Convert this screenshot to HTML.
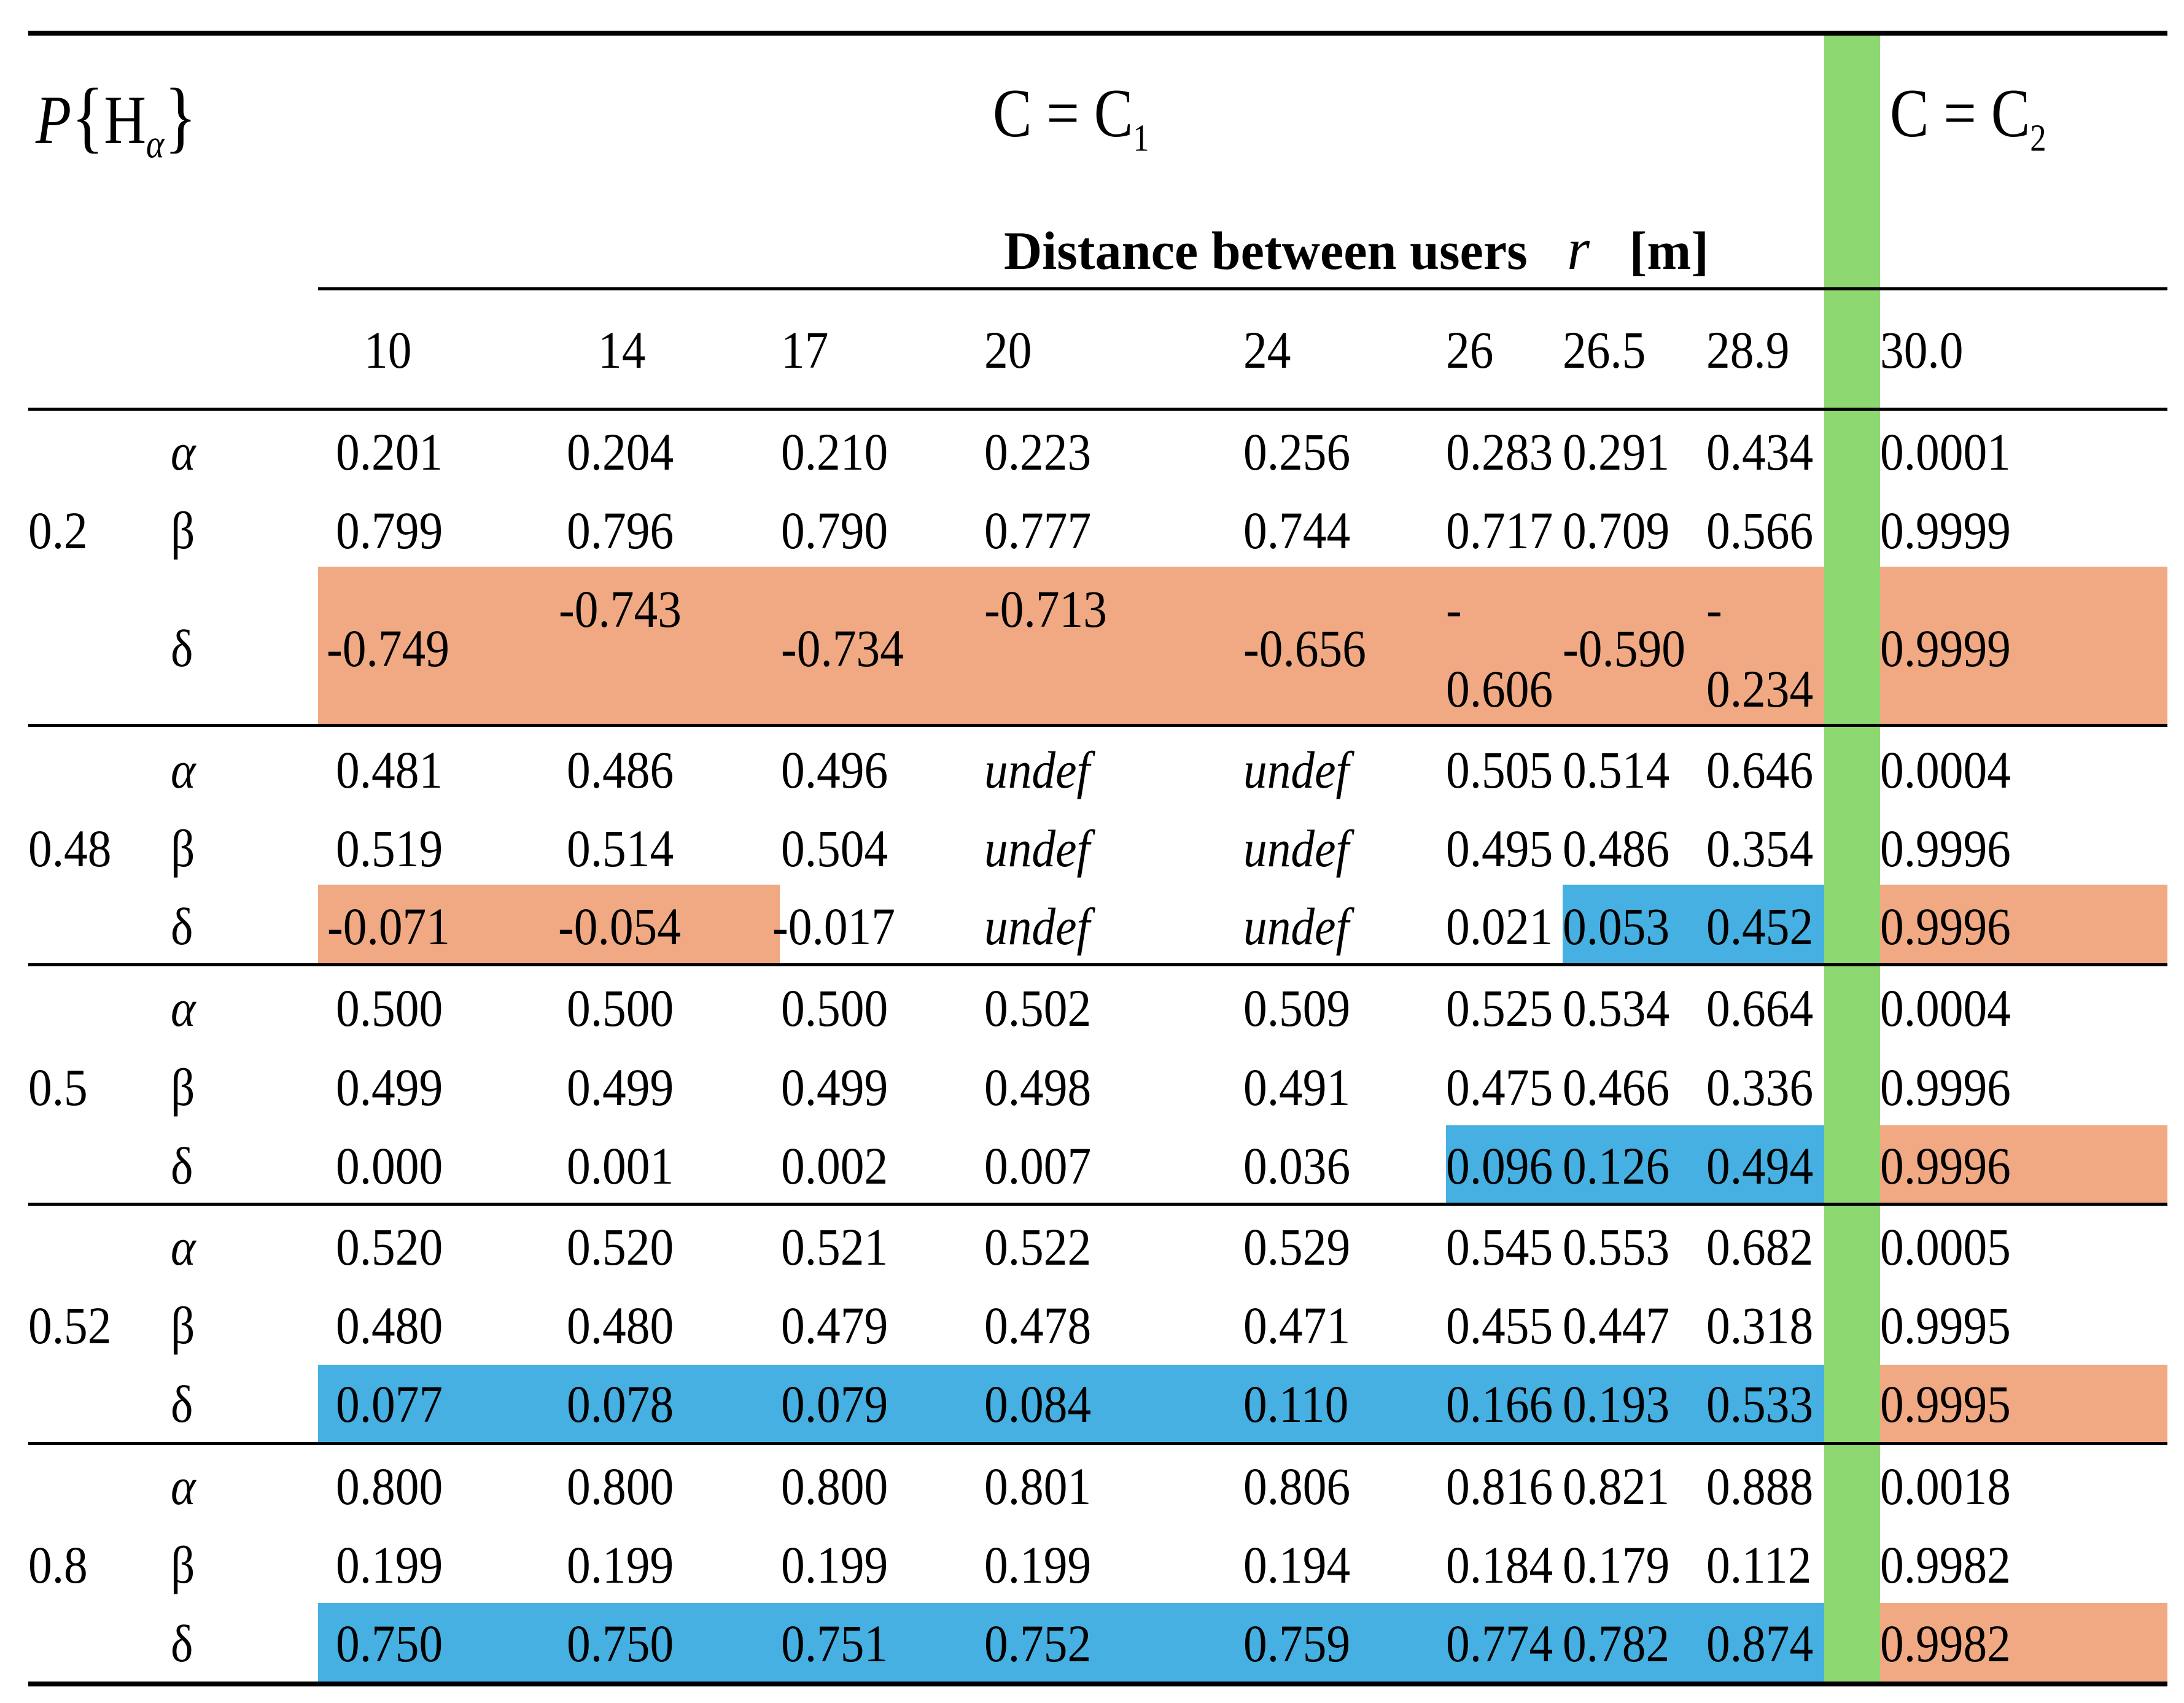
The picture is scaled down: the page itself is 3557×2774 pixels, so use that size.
<!DOCTYPE html>
<html><head><meta charset="utf-8">
<style>
html,body{margin:0;padding:0;background:#fff;}
#root{position:relative;width:3557px;height:2774px;overflow:hidden;font-family:"Liberation Serif",serif;color:#000;}
.abs{position:absolute;}
.t{position:absolute;white-space:nowrap;font-size:86px;line-height:100px;height:100px;transform:scaleX(0.9);transform-origin:left center;}
.rule{position:absolute;background:#000;}
</style></head>
<body>
<div id="root">
  <div class="abs" style="left:2971px;top:55px;width:91px;height:2686px;background:#8ED872;"></div>
  <div class="rule" style="left:46px;top:50px;width:3484px;height:8px;"></div>
  <div class="rule" style="left:518px;top:468px;width:3012px;height:5px;"></div>
  <div class="rule" style="left:46px;top:664px;width:3484px;height:5px;"></div>
  <div class="t" style="left:58px;top:125px;font-size:112px;line-height:130px;height:130px;transform:scaleX(0.85);"><i>P</i><span style="font-size:130px;">{</span>H<sub style="font-size:66px;"><i>α</i></sub><span style="font-size:130px;">}</span></div>
  <div class="t" style="left:1617px;top:120px;font-size:112px;line-height:130px;height:130px;transform:scaleX(0.85);">C = C<sub style="font-size:62px;">1</sub></div>
  <div class="t" style="left:3078px;top:120px;font-size:112px;line-height:130px;height:130px;transform:scaleX(0.85);">C = C<sub style="font-size:62px;">2</sub></div>
  <div class="t" style="left:1635px;top:356px;font-size:88px;font-weight:bold;transform:scaleX(0.98);">Distance between users&nbsp;&nbsp;&nbsp;<i style="font-weight:normal;font-size:96px;">r</i>&nbsp;&nbsp;&nbsp;[m]</div>
</div>
<script>
var distances=["10","14","17","20","24","26","26.5","28.9","30.0"];
var groups=["0.2","0.48","0.5","0.52","0.8"];
var alphaVals=[
["0.201","0.204","0.210","0.223","0.256","0.283","0.291","0.434","0.0001"],
["0.481","0.486","0.496","undef","undef","0.505","0.514","0.646","0.0004"],
["0.500","0.500","0.500","0.502","0.509","0.525","0.534","0.664","0.0004"],
["0.520","0.520","0.521","0.522","0.529","0.545","0.553","0.682","0.0005"],
["0.800","0.800","0.800","0.801","0.806","0.816","0.821","0.888","0.0018"]];
var betaVals=[
["0.799","0.796","0.790","0.777","0.744","0.717","0.709","0.566","0.9999"],
["0.519","0.514","0.504","undef","undef","0.495","0.486","0.354","0.9996"],
["0.499","0.499","0.499","0.498","0.491","0.475","0.466","0.336","0.9996"],
["0.480","0.480","0.479","0.478","0.471","0.455","0.447","0.318","0.9995"],
["0.199","0.199","0.199","0.199","0.194","0.184","0.179","0.112","0.9982"]];
var deltaVals=[
["-0.749","-0.743","-0.734","-0.713","-0.656","-0.606","-0.590","-0.234","0.9999"],
["-0.071","-0.054","-0.017","undef","undef","0.021","0.053","0.452","0.9996"],
["0.000","0.001","0.002","0.007","0.036","0.096","0.126","0.494","0.9996"],
["0.077","0.078","0.079","0.084","0.110","0.166","0.193","0.533","0.9995"],
["0.750","0.750","0.751","0.752","0.759","0.774","0.782","0.874","0.9982"]];
// highlight: o=orange, b=blue, n=none
var deltaHighlight=[
["o","o","o","o","o","o","o","o","o"],
["o","o","n","n","n","n","b","b","o"],
["n","n","n","n","n","b","b","b","o"],
["b","b","b","b","b","b","b","b","o"],
["b","b","b","b","b","b","b","b","o"]];

var root=document.getElementById('root');
var colX=[547,923,1272,1603,2025,2355,2545,2779,3062];
var colHdrX=[593,974,1272,1603,2025,2355,2545,2779,3062];
var cellEdges=[518,923,1270,1603,2025,2355,2545,2779,2971];
var groupBottom=[1181,1571,1961,2351,2743];
var rowY=[[736,864,1056],[1254,1382,1509],[1642,1771,1899],[2031,2159,2287],[2421,2549,2677]];
var deltaBg=[[923,1181],[1441,1571],[1833,1961],[2223,2351],[2611,2741]];
var colors={o:"#F0A982",b:"#45B0E1"};

function txt(s,x,cy,italic){
  var d=document.createElement('div');
  d.className='t';
  d.style.left=x+'px';
  d.style.top=(cy-50)+'px';
  if(italic) d.style.fontStyle='italic';
  d.textContent=s;
  root.appendChild(d);
  return d;
}
function box(x,y,w,h,c){
  var b=document.createElement('div');
  b.className='abs';
  b.style.left=x+'px';b.style.top=y+'px';b.style.width=w+'px';b.style.height=h+'px';b.style.background=c;
  root.insertBefore(b,root.firstChild);
  return b;
}
var green=root.firstElementChild;

for(var c=0;c<distances.length;c++){
  var h=txt(distances[c],colHdrX[c],570,false);
  
  
}
for(var g=0;g<groups.length;g++){
  for(var c=0;c<9;c++){
    var hl=deltaHighlight[g][c];
    if(hl==='n') continue;
    var x0,x1;
    if(c<8){x0=cellEdges[c];x1=(c<7)?cellEdges[c+1]:2971;}else{x0=3062;x1=3530;}
    var bg=box(x0,deltaBg[g][0],x1-x0,deltaBg[g][1]-deltaBg[g][0],colors[hl]);
    
    
  }
  var gl=txt(groups[g],46,rowY[g][1],false);
  
  
  var sa=txt('α',278,rowY[g][0],true);
  
  
  var sb=txt('β',278,rowY[g][1],false);
  
  
  var sd=txt('δ',278,rowY[g][2],false);
  
  
  for(var c=0;c<9;c++){
    var a=alphaVals[g][c];
    var e1=txt(a,colX[c],rowY[g][0],a==='undef');
    
    
    var b=betaVals[g][c];
    var e2=txt(b,colX[c],rowY[g][1],b==='undef');
    
    
    var d=deltaVals[g][c];
    var dx=colX[c];
    if(g===0){
      var dy=rowY[g][2];
      if(c===1||c===3){dy=992;}
      if(c===0){dx=532;}
      if(c===1){dx=910;}
      if(c===5||c===7){
        var m=txt('-',colX[c],992,false);
        
        
        var e3=txt(d.slice(1),colX[c],1122,false);
        
        
        continue;
      }
      var e3=txt(d,dx,dy,false);
    } else {
      if(d.charAt(0)==='-'){dx=colX[c]-14;}
      var e3=txt(d,dx,rowY[g][2],d==='undef');
    }
    
    
  }
  if(g<groups.length-1){
    var r=box(46,groupBottom[g]-2,3484,5,'#000');
    root.appendChild(r);
    
    
  }
}
var firstText=root.querySelector('.rule');
root.insertBefore(green,firstText);
var bottom=box(46,2739,3484,8,'#000');
root.appendChild(bottom);


</script>
</body></html>
